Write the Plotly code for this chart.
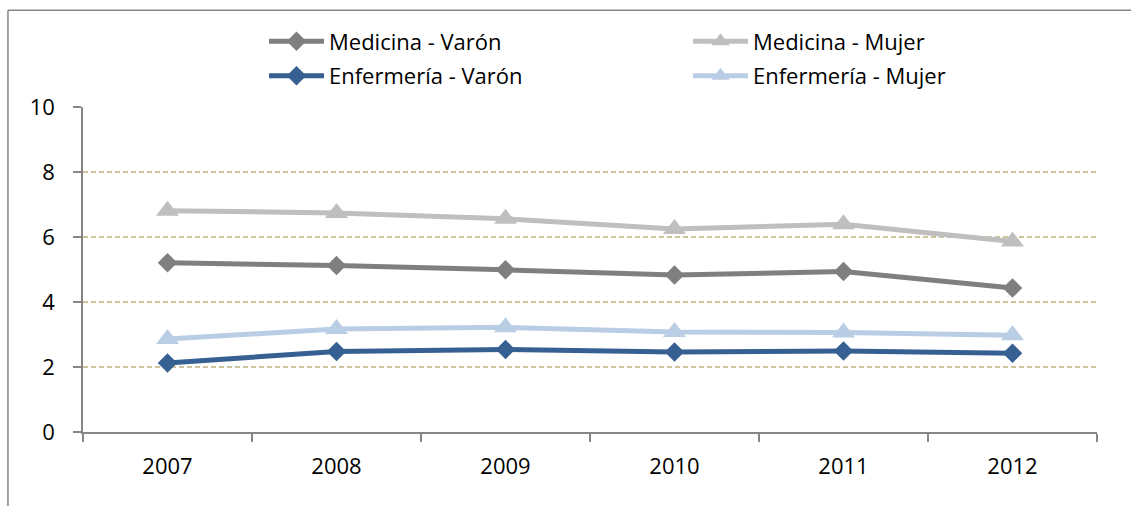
import plotly.graph_objects as go

years = ["2007", "2008", "2009", "2010", "2011", "2012"]
medicina_varon = [5.21, 5.12, 4.99, 4.83, 4.94, 4.43]
medicina_mujer = [6.81, 6.74, 6.56, 6.25, 6.39, 5.86]
enfermeria_varon = [2.12, 2.48, 2.54, 2.46, 2.49, 2.42]
enfermeria_mujer = [2.86, 3.17, 3.22, 3.08, 3.06, 2.98]

names = ["Medicina - Varón", "Medicina - Mujer", "Enfermería - Varón", "Enfermería - Mujer"]
colors = ["#7f7f7f", "#bfbfbf", "#376092", "#b9cde5"]
symbols = ["diamond", "triangle-up", "diamond", "triangle-up"]
sizes = [15, 20, 15, 20]
legends = ["legend", "legend", "legend2", "legend2"]
series = [medicina_varon, medicina_mujer, enfermeria_varon, enfermeria_mujer]

FONT = "Open Sans"

fig = go.Figure()
for n, c, s, sz, lg, v in zip(names, colors, symbols, sizes, legends, series):
    fig.add_trace(go.Scatter(
        x=years, y=v, name=n, mode="lines+markers",
        line=dict(color=c, width=5),
        marker=dict(symbol=s, size=sz, color=c),
        legend=lg,
    ))

leg_common = dict(
    orientation="h", x=0.1785, xanchor="left", yanchor="top",
    entrywidth=354, itemwidth=55, itemsizing="trace",
    font=dict(family=FONT, size=22, color="#000000"),
    bgcolor="rgba(0,0,0,0)", traceorder="normal",
)

border = dict(color="#868686", width=1.5)

fig.update_layout(
    width=1131, height=506,
    margin=dict(l=83, r=34, t=107, b=74),
    plot_bgcolor="white", paper_bgcolor="white",
    font=dict(family=FONT, size=22, color="#000000"),
    showlegend=True,
    legend=dict(y=1.266, **leg_common),
    legend2=dict(y=1.16, **leg_common),
    xaxis=dict(
        type="category", showline=True, linecolor="#868686", linewidth=1.5,
        ticks="outside", ticklen=8, tickcolor="#868686", tickwidth=1.5,
        tickson="boundaries", showgrid=False, ticklabelstandoff=14,
        tickfont=dict(family=FONT, size=22), range=[-0.5, 5.5],
    ),
    yaxis=dict(
        range=[0, 10], dtick=2, showline=True, linecolor="#868686", linewidth=1.5,
        ticks="outside", ticklen=8, tickcolor="#868686", tickwidth=1.5,
        showgrid=True, gridcolor="#cdc49e", gridwidth=1.5, griddash="5px,3px",
        zeroline=False, ticklabelstandoff=14,
        tickfont=dict(family=FONT, size=22),
    ),
    shapes=[
        dict(type="line", xref="paper", yref="paper",
             x0=-0.074, x1=1.1, y0=1.298, y1=1.298, line=border, layer="below"),
        dict(type="line", xref="paper", yref="paper",
             x0=-0.074, x1=-0.074, y0=-0.4, y1=1.298, line=border, layer="below"),
    ],
)

fig.write_html(
    "out.html",
    config={"displayModeBar": False},
    post_script="document.body.style.margin='0';document.body.style.overflow='hidden';",
)
